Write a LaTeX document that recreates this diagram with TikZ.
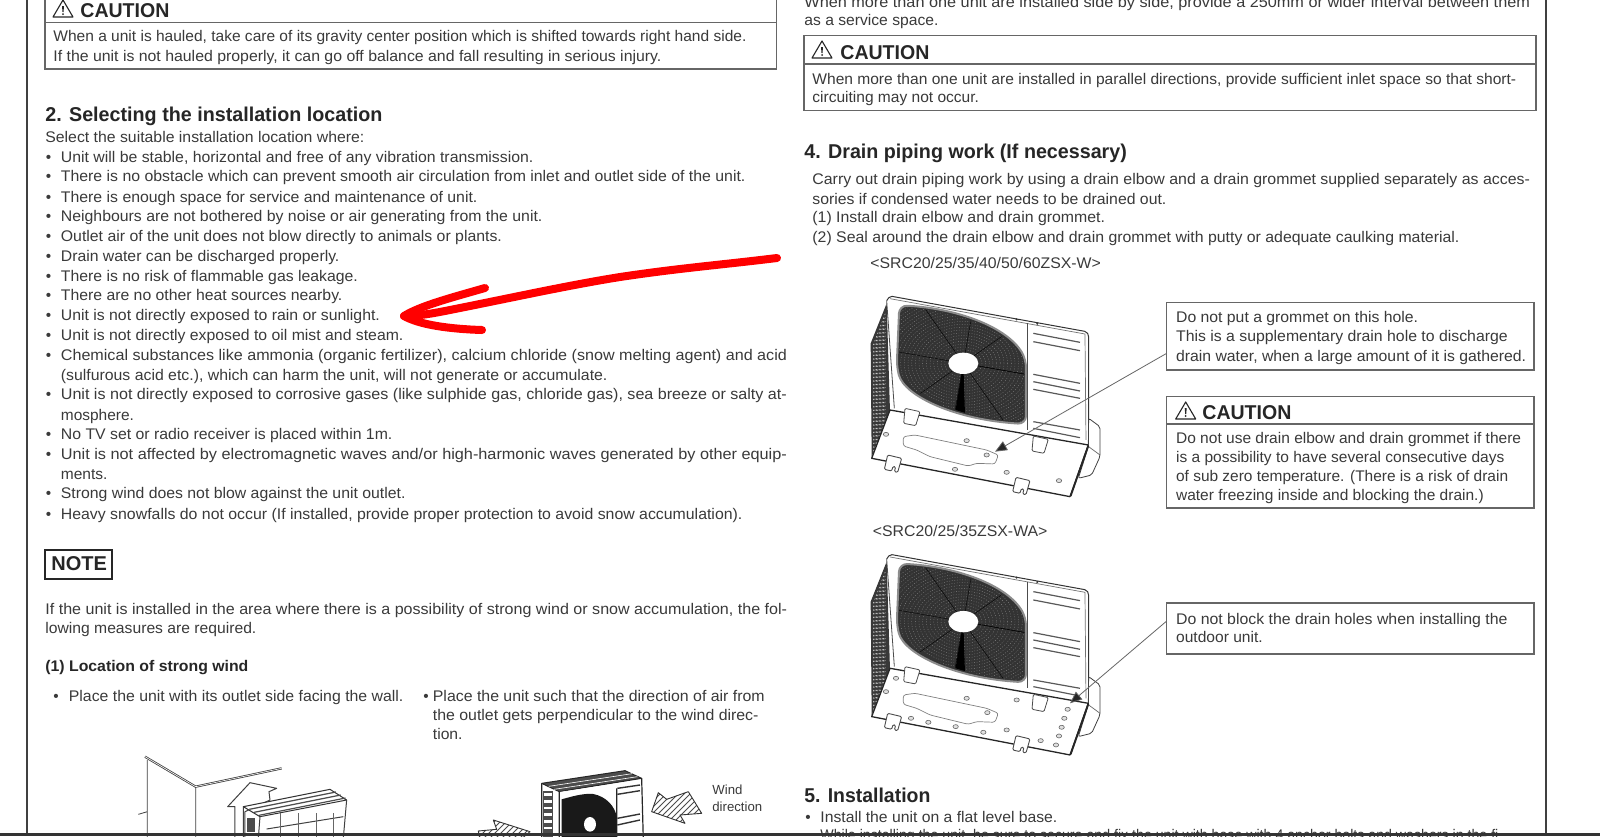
\documentclass[tikz,border=0pt]{standalone}
\usepackage{fontspec}
\setmainfont{Liberation Sans}
\usetikzlibrary{arrows.meta,patterns}

\definecolor{inkgray}{HTML}{3A3A3A}
\definecolor{rulegray}{HTML}{666666}
\definecolor{fandark}{HTML}{333333}

% set a line to the width (in reference pixels) that it has on the scan
\newcommand{\fitto}[2]{\resizebox{0.5\dimexpr#1pt\relax}{\height}{#2}}

\tikzset{
  bodytext/.style={anchor=base west,inner sep=0pt,text=inkgray,font=\fontsize{7.7}{9}\selectfont},
  headtext/.style={anchor=base west,inner sep=0pt,text=black!85,font=\fontsize{10}{12}\selectfont\bfseries},
  boldtext/.style={anchor=base west,inner sep=0pt,text=black!85,font=\fontsize{7.7}{9}\selectfont\bfseries},
  smalltext/.style={anchor=base west,inner sep=0pt,text=inkgray,font=\fontsize{6.6}{8}\selectfont},
  framebox/.style={draw=rulegray,line width=.7pt},
  leader/.style={draw=rulegray,line width=.4pt,-{Stealth[length=6pt,width=5pt,inset=0pt,fill=black!85]}},
  hole/.style={draw=black!60,fill=black!12,line width=.3pt},
  warnicon/.pic={
    \draw[black!85,line width=.55pt,line join=round] (0,17) -- (10,0) -- (20,17) -- cycle;
    \fill[black!85] (9,6) -- (11,6) -- (10.5,12) -- (9.5,12) -- cycle;
    \fill[black!85] (10,14) circle (1);
  },
  acunit/.pic={
    % body and side grille
    \fill[black!78] (140,70) -- (92,190) -- (95,530) -- (150,395) -- cycle;
    \foreach \k in {0,...,30}
      \draw[white,line width=.2pt,dash pattern=on .7pt off 1.3pt] (100,195+11*\k) -- (138,95+11*\k);
    \draw[black!80,line width=.5pt,line join=round,rounded corners=1pt]
      (140,62) -- (150,48) -- (740,155) -- (746,165) -- (746,490);
    \draw[black!55,line width=.35pt] (150,56) -- (735,162) -- (738,480);
    \draw[black!70,line width=.4pt] (140,62) -- (163,385);
    \draw[black!70,line width=.5pt] (563,130) -- (563,450);
    \fill[black!80] (530,118) circle (3.5) (592,131) circle (3.5);
    % grille lines of the side panel
    \foreach \a/\b in {160/187,185/212,283/310,305/333,328/355,425/450,445/473}
      \draw[black!65,line width=.6pt] (580,\a) -- (720,\b);
    % fan with hub
    \draw[black!45,line width=1pt,fill=fandark,rounded corners=4pt]
      (178,76) .. controls (350,85) and (500,140) .. (558,238) -- (558,432)
      .. controls (350,420) and (195,350) .. (170,262) -- cycle;
    \begin{scope}
      \clip (182,82) .. controls (350,90) and (497,145) .. (553,240) -- (553,426)
        .. controls (350,415) and (200,345) .. (176,262) -- cycle;
      \foreach \r in {1,...,22}
        \draw[black!45,line width=.2pt,dash pattern=on .4pt off .9pt]
          (370,250) ellipse ({45+11*\r} and {32+8.5*\r});
      \foreach \t in {10,55,...,370}
        \draw[black,line width=.2pt] (370,250) -- ++(\t:330);
      \fill[black] (370,250) -- (345,400) -- (375,405) -- cycle;
    \end{scope}
    \fill[white] (370,250) ellipse (45 and 32);
    % bump at the right, then the drain plate
    \draw[black!75,line width=.4pt,fill=white,rounded corners=1pt]
      (746,415) -- (780,440) -- (780,530) -- (755,585) -- (715,595) -- (745,500) -- cycle;
    \draw[black!60,line width=.35pt] (746,500) -- (780,525);
    \draw[black!85,line width=.65pt,fill=white,line join=round]
      (150,390) -- (745,495) -- (690,650) -- (95,535) -- cycle;
    \draw[black!85,line width=.9pt] (745,497) -- (692,648);
    \draw[black!50,line width=.35pt,rounded corners=1.2pt]
      (190,470) -- (225,465) -- (440,510) -- (475,525) -- (465,552) -- (410,550) -- (385,558)
      -- (270,530) -- (230,510) -- (190,498) -- cycle;
    % brackets
    \foreach \px/\py in {190/385,575/468}
      \draw[black!70,line width=.4pt,fill=white,rounded corners=.6pt]
        (\px,\py) ++(5,0) -- ++(45,10) -- ++(-13,42) -- ++(-36,-7) -- cycle;
    \foreach \px/\py in {135/525,520/592}
      \draw[black!70,line width=.45pt,fill=white,rounded corners=.6pt]
        (\px,\py) ++(8,0) -- ++(42,10) -- ++(-12,42) -- ++(-10,-2) -- ++(4,-14) -- ++(-8,-2)
        -- ++(-4,14) -- ++(-22,-5) -- cycle;
  }
}

\begin{document}
\begin{tikzpicture}[x=.5pt,y=-.5pt]
  \useasboundingbox (0,0) rectangle (1600,836);
  \fill[white] (0,0) rectangle (1600,836);

  % page edges
  \draw[black!75,line width=1pt] (27,0) -- (27,836);
  \draw[black!75,line width=1pt] (1546,0) -- (1546,836);

  %Left column, first caution box
  \draw[framebox] (45,-5) rectangle (776.5,69);
  \draw[framebox] (45,22.7) -- (776.5,22.7);
  \pic at (53,0) {warnicon};
  \node[headtext] (cauA) at (80,17.3) {\fitto{89}{CAUTION}};
  \node[bodytext] (cauAa) at (53,41.7) {\fitto{693}{When a unit is hauled, take care of its gravity center position which is shifted towards right hand side.}};
  \node[bodytext] (cauAb) at (53,61.5) {\fitto{608}{If the unit is not hauled properly, it can go off balance and fall resulting in serious injury.}};

  %Section 2
  \node[headtext] (secTwo) at (45,121.7) {\fitto{337}{2. Selecting the installation location}};
  \node[bodytext] (selIntro) at (45,142.5) {\fitto{319}{Select the suitable installation location where:}};

  \foreach \y in {162,181.5,202,221.5,241,261.5,281,300,320,340,360,399.5,439.5,459,498.5,519}
    \node[bodytext] (bul\y) at (45.5,\y) {•};

  \node[bodytext] (siteA) at (60.5,162) {\fitto{472.5}{Unit will be stable, horizontal and free of any vibration transmission.}};
  \node[bodytext] (siteB) at (60.5,181.5) {\fitto{684.5}{There is no obstacle which can prevent smooth air circulation from inlet and outlet side of the unit.}};
  \node[bodytext] (siteC) at (60.5,202) {\fitto{416.5}{There is enough space for service and maintenance of unit.}};
  \node[bodytext] (siteD) at (60.5,221.5) {\fitto{481.5}{Neighbours are not bothered by noise or air generating from the unit.}};
  \node[bodytext] (siteE) at (60.5,241) {\fitto{441}{Outlet air of the unit does not blow directly to animals or plants.}};
  \node[bodytext] (siteF) at (60.5,261.5) {\fitto{278.5}{Drain water can be discharged properly.}};
  \node[bodytext] (siteG) at (60.5,281) {\fitto{297}{There is no risk of flammable gas leakage.}};
  \node[bodytext] (siteH) at (60.5,300) {\fitto{281.5}{There are no other heat sources nearby.}};
  \node[bodytext] (siteI) at (60.5,320) {\fitto{319}{Unit is not directly exposed to rain or sunlight.}};
  \node[bodytext] (siteJ) at (60.5,340) {\fitto{342.5}{Unit is not directly exposed to oil mist and steam.}};
  \node[bodytext] (siteK) at (60.5,360) {\fitto{726}{Chemical substances like ammonia (organic fertilizer), calcium chloride (snow melting agent) and acid}};
  \node[bodytext] (siteKb) at (60.5,380) {\fitto{546.5}{(sulfurous acid etc.), which can harm the unit, will not generate or accumulate.}};
  \node[bodytext] (siteL) at (60.5,399.5) {\fitto{726}{Unit is not directly exposed to corrosive gases (like sulphide gas, chloride gas), sea breeze or salty at-}};
  \node[bodytext] (siteLb) at (60.5,420) {\fitto{73}{mosphere.}};
  \node[bodytext] (siteM) at (60.5,439.5) {\fitto{331.5}{No TV set or radio receiver is placed within 1m.}};
  \node[bodytext] (siteN) at (60.5,459) {\fitto{726}{Unit is not affected by electromagnetic waves and/or high-harmonic waves generated by other equip-}};
  \node[bodytext] (siteNb) at (60.5,479) {\fitto{46.6}{ments.}};
  \node[bodytext] (siteO) at (60.5,498.5) {\fitto{344.6}{Strong wind does not blow against the unit outlet.}};
  \node[bodytext] (siteP) at (60.5,519) {\fitto{681.5}{Heavy snowfalls do not occur (If installed, provide proper protection to avoid snow accumulation).}};

  %Note
  \draw[black!85,line width=.7pt] (45,550) rectangle (112,579);
  \node[headtext] (noteHead) at (51,570) {NOTE};
  \node[bodytext] (noteA) at (45,614) {\fitto{741.7}{If the unit is installed in the area where there is a possibility of strong wind or snow accumulation, the fol-}};
  \node[bodytext] (noteB) at (45,633.5) {\fitto{211}{lowing measures are required.}};
  \node[boldtext] (windHead) at (45,671) {\fitto{203}{(1) Location of strong wind}};
  \node[bodytext] (bulWa) at (53,701) {•};
  \node[bodytext] (windA) at (68.5,701) {\fitto{334.5}{Place the unit with its outlet side facing the wall.}};
  \node[bodytext] (bulWb) at (423,701) {•};
  \node[bodytext] (windB) at (432.5,701) {\fitto{331.8}{Place the unit such that the direction of air from}};
  \node[bodytext] (windBb) at (432.5,720.5) {\fitto{325.6}{the outlet gets perpendicular to the wind direc-}};
  \node[bodytext] (windBc) at (432.5,739.5) {\fitto{29.7}{tion.}};

  %Wall sketch
  \begin{scope}[shift={(130,745)},scale=.3333]
    \draw[black!75,line width=.4pt] (52,45) -- (52,280) (197,125) -- (197,280) (25,208) -- (52,200);
    \draw[black!75,line width=1.1pt] (45,35) -- (197,125) -- (455,70);
    \draw[white,line width=.3pt] (45,35) -- (197,125) -- (455,70);
    \draw[black!75,line width=.5pt,fill=white,line join=round]
      (315,280) -- (315,185) -- (293,185) -- (360,113) -- (440,130) -- (417,140) -- (420,165) -- (345,200) -- (345,280);
    \draw[black!80,line width=.5pt,fill=white,line join=round]
      (340,185) -- (600,133) -- (650,165) -- (390,215) -- cycle;
    \foreach \d in {8,17,26}
      \draw[black!70,line width=.6pt] (345+\d*1.6,185+\d) -- (605+\d*1.6,133+\d);
    \draw[black!75,line width=.5pt] (340,185) -- (340,280) (390,215) -- (385,280) (650,165) -- (640,280) (410,252) -- (640,215);
    \foreach \vx in {450,505,560,610}
      \draw[black!60,line width=.4pt] (\vx,205) -- (\vx,280);
    \fill[black!70] (350,220) rectangle (375,260);
  \end{scope}

  %Wind sketch
  \begin{scope}[shift={(470,760)},scale=.3333]
    \draw[black!85,line width=.5pt,fill=black!70,line join=round]
      (215,70) -- (465,32) -- (515,55) -- (268,95) -- cycle;
    \foreach \d in {9,18,27}
      \draw[white,line width=.3pt] (220+\d*1.8,70+\d) -- (470+\d*1.8,32+\d);
    \draw[black!85,line width=.6pt] (215,70) -- (215,240) (268,95) -- (268,240) (515,55) -- (520,240) (440,85) -- (440,240);
    \fill[black!70] (218,92) rectangle (250,240);
    \foreach \k in {0,...,6}
      \fill[white] (222,100+\k*20) rectangle (246,108+\k*20);
    \fill[black!90] (275,118) .. controls (320,105) and (345,100) .. (370,102)
      .. controls (410,110) and (435,140) .. (440,170) -- (440,240) -- (275,240) -- cycle;
    \fill[white] (360,193) ellipse (18 and 22);
    \foreach \a/\b in {85/75,103/92,175/162,195/180}
      \draw[black!80,line width=.7pt] (442,\a) -- (510,\b);
    \node[smalltext] (windLabA) at (726,104) {Wind};
    \node[smalltext] (windLabB) at (726,155) {direction};
    \draw[black!80,line width=.45pt,pattern=north east lines,pattern color=black!70,line join=round]
      (545,155) -- (565,98) -- (590,118) -- (655,95) -- (695,160) -- (630,165) -- (645,190) -- cycle;
    \draw[black!80,line width=.45pt,pattern=north east lines,pattern color=black!70,line join=round]
      (25,213) -- (80,208) -- (70,180) -- (180,215) -- (150,240) -- (30,240) -- cycle;
  \end{scope}

  %Right column, top
  \node[bodytext] (topA) at (804,7) {\fitto{725.6}{When more than one unit are installed side by side, provide a 250mm or wider interval between them}};
  \node[bodytext] (topB) at (804,25.5) {\fitto{134}{as a service space.}};
  \draw[framebox] (804,35.7) rectangle (1536,110.3);
  \draw[framebox] (804,64) -- (1536,64);
  \pic at (812,41) {warnicon};
  \node[headtext] (cauB) at (840,59.3) {\fitto{89}{CAUTION}};
  \node[bodytext] (cauBa) at (812,84) {\fitto{703.8}{When more than one unit are installed in parallel directions, provide sufficient inlet space so that short-}};
  \node[bodytext] (cauBb) at (812,102.7) {\fitto{166.6}{circuiting may not occur.}};

  %Section 4
  \node[headtext] (secFour) at (804,158) {\fitto{322.5}{4. Drain piping work (If necessary)}};
  \node[bodytext] (drainA) at (812,184.3) {\fitto{717.6}{Carry out drain piping work by using a drain elbow and a drain grommet supplied separately as acces-}};
  \node[bodytext] (drainB) at (812,204) {\fitto{354}{sories if condensed water needs to be drained out.}};
  \node[bodytext] (drainC) at (812,222.7) {\fitto{292.6}{(1) Install drain elbow and drain grommet.}};
  \node[bodytext] (drainD) at (812,242) {\fitto{647}{(2) Seal around the drain elbow and drain grommet with putty or adequate caulking material.}};
  \node[bodytext] (modelA) at (870,268.7) {\fitto{230.5}{<SRC20/25/35/40/50/60ZSX-W>}};

  %Outdoor units
  \pic[scale=.3333] at (840,280) {acunit};
  \begin{scope}[shift={(840,280)},scale=.3333]
    \foreach \hx/\hy in {138/463,380/482,440/525,345/568,500/577,657/602}
      \draw[hole] (\hx,\hy) ellipse (8 and 6);
    \coordinate (tipA) at (465,515);
  \end{scope}
  \pic[scale=.3333] at (840,538.3) {acunit};
  \begin{scope}[shift={(840,538.3)},scale=.3333]
    \foreach \hx/\hy in {168/420,138/460,380/480,530/485,442/523,213/540,265/552,347/565,430/582,500/575,602/607,648/620,683/513,673/540,665/567,657/593}
      \draw[hole] (\hx,\hy) ellipse (8 and 6);
    \coordinate (tipB) at (690,495);
  \end{scope}

  %Notes beside the units
  \draw[framebox] (1166.7,302.7) rectangle (1534,370);
  \coordinate (fromA) at (1166.7,353.3);
  \node[bodytext] (holeA) at (1175.7,322) {\fitto{242}{Do not put a grommet on this hole.}};
  \node[bodytext] (holeB) at (1175.7,341.7) {\fitto{331.6}{This is a supplementary drain hole to discharge}};
  \node[bodytext] (holeC) at (1175.7,361) {\fitto{350}{drain water, when a large amount of it is gathered.}};

  \draw[framebox] (1166.7,396.7) rectangle (1534,508);
  \draw[framebox] (1166.7,424) -- (1534,424);
  \pic at (1175.7,402) {warnicon};
  \node[headtext] (cauC) at (1202,419.3) {\fitto{89}{CAUTION}};
  \node[bodytext] (cauCa) at (1175.7,443.3) {\fitto{345}{Do not use drain elbow and drain grommet if there}};
  \node[bodytext] (cauCb) at (1175.7,462.7) {\fitto{328.3}{is a possibility to have several consecutive days}};
  \node[bodytext] (cauCc) at (1175.7,481.7) {\fitto{332}{of sub zero temperature. (There is a risk of drain}};
  \node[bodytext] (cauCd) at (1175.7,500) {\fitto{307.6}{water freezing inside and blocking the drain.)}};

  \node[bodytext] (modelB) at (872.5,536.6) {\fitto{174.5}{<SRC20/25/35ZSX-WA>}};

  \draw[framebox] (1166.7,603) rectangle (1534,654);
  \coordinate (fromB) at (1166.7,621);
  \node[bodytext] (blockA) at (1175.7,624.4) {\fitto{331.4}{Do not block the drain holes when installing the}};
  \node[bodytext] (blockB) at (1175.7,642.7) {\fitto{86.6}{outdoor unit.}};

  \draw[leader] (fromA) -- (tipA);
  \draw[leader] (fromB) -- (tipB);

  %Section 5
  \node[headtext] (secFive) at (804,802) {\fitto{126}{5. Installation}};
  \node[bodytext] (bulIa) at (805,822.5) {•};
  \node[bodytext] (instA) at (820,822.5) {\fitto{237}{Install the unit on a flat level base.}};
  \node[bodytext] (instB) at (820,840.5) {\fitto{678}{While installing the unit, be sure to secure and fix the unit with base with 4 anchor bolts and washers in the fi}};

  % bottom bar
  \fill[black!80] (0,833) rectangle (1600,836);

  %Red arrow by hand
  \draw[red,line width=4pt,line cap=round,line join=round]
    (777,258) .. controls (720,265) and (680,268) .. (620,277) .. controls (570,285) and (520,296) .. (455,309) .. controls (435,313) and (420,316) .. (404,316);
  \draw[red,line width=4pt,line cap=round,line join=round]
    (485,288) .. controls (450,298) and (420,306) .. (404,316) .. controls (420,325) and (450,329) .. (482,330);
\end{tikzpicture}
\end{document}
